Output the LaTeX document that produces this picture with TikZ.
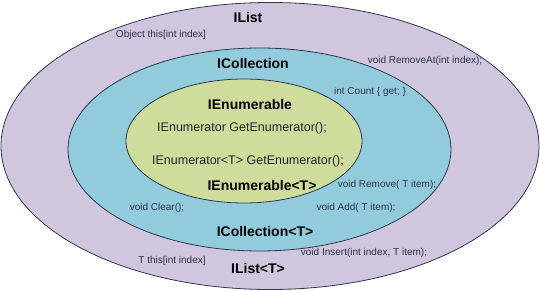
\documentclass[tikz,border=0pt]{standalone}
\usepackage{fontspec}
\setmainfont{Liberation Sans}
\usetikzlibrary{shapes.geometric}

\begin{document}
\begin{tikzpicture}[x=1pt, y=-1pt,
  ring/.style={draw=ringline, ellipse, line width=0.8pt, inner sep=0pt, outer sep=0pt},
  title/.style={font=\fontsize{14}{16}\selectfont\bfseries, inner sep=0pt},
  member/.style={font=\fontsize{10}{12}\selectfont, text=membertext, inner sep=0pt},
  method/.style={font=\fontsize{12.5}{14}\selectfont, text=methodtext, inner sep=0pt}]
  \definecolor{listpurple}{RGB}{208,198,222}
  \definecolor{collblue}{RGB}{146,204,220}
  \definecolor{enumgreen}{RGB}{207,221,156}
  \definecolor{ringline}{RGB}{45,55,80}
  \definecolor{membertext}{RGB}{45,50,75}
  \definecolor{methodtext}{RGB}{35,35,45}
  \useasboundingbox (0,0) rectangle (540,291);
  % nested interfaces
  \node[ring, fill=listpurple, minimum width=538pt, minimum height=287pt] (ilist) at (270,146) {};
  \node[ring, fill=collblue, minimum width=383pt, minimum height=203pt] (icoll) at (259.5,149.5) {};
  \node[ring, fill=enumgreen, minimum width=236pt, minimum height=124pt] (ienum) at (244,141) {};
  % IList
  \node[title] (ilisttitle) at (248,17) {IList};
  \node[member] (indexer) at (161,35) {Object this[int index]};
  \node[member] (removeat) at (425,61) {void RemoveAt(int index);};
  \node[member] (insert) at (364,253) {void Insert(int index, T item);};
  \node[member] (indexert) at (172,261) {T this[int index]};
  \node[title] (ilistt) at (258,268) {IList<T>};
  % ICollection
  \node[title] (icolltitle) at (253,63) {ICollection};
  \node[member] (count) at (370,92) {int Count \{ get; \}};
  \node[member] (remove) at (387,185) {void Remove( T item);};
  \node[member] (add) at (356,208) {void Add( T item);};
  \node[member] (clear) at (157,208) {void Clear();};
  \node[title] (icollt) at (265,231) {ICollection<T>};
  % IEnumerable
  \node[title] (ienumtitle) at (250,104) {IEnumerable};
  \node[method] (getenum) at (242,128) {IEnumerator GetEnumerator();};
  \node[method] (getenumt) at (248,161) {IEnumerator<T> GetEnumerator();};
  \node[title] (ienumt) at (262,185) {IEnumerable<T>};
\end{tikzpicture}
\end{document}
